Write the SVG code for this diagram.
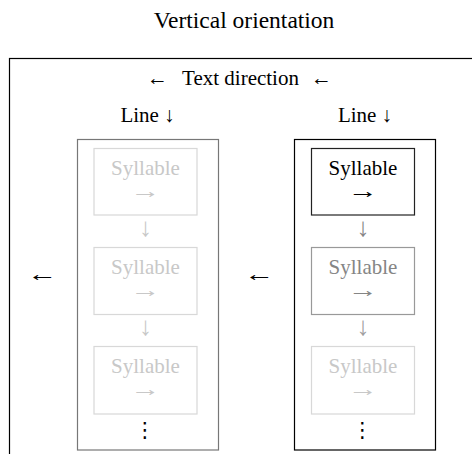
<svg xmlns="http://www.w3.org/2000/svg" width="472" height="454" viewBox="0 0 472 454">
<style>
text { font-size: 21px; text-anchor: middle; }
.k { fill: #000; }
.light { fill: #c8c8c8; }
.mid { fill: #858585; }
.mid2 { fill: #a0a0a0; }
.v { font-size: 26px; }
.title { font-size: 23.5px; }
.col { fill: none; stroke-width: 1.2; }
.syl { fill: #fff; stroke-width: 1.2; }
</style>
<rect width="472" height="454" fill="#fff"/>
<g font-family="Liberation Serif, Times New Roman, serif">
<text class="k title" x="244" y="28">Vertical orientation</text>
<rect x="9.5" y="58.5" width="600" height="600" fill="none" stroke="#000" stroke-width="1.2"/>
<text class="k" y="85"><tspan x="157.5">←</tspan><tspan x="240.5">Text direction</tspan><tspan x="321.5">←</tspan></text>
<g id="line-left">
  <text class="k" x="147.5" y="122">Line ↓</text>
  <rect class="col" x="77.5" y="139.5" width="141" height="310.5" stroke="#777"/>
  <g id="syl-l1"><rect class="syl" x="94" y="148.5" width="103" height="66.5" stroke="#d8d8d8"/><text class="light" x="145.5" y="175">Syllable</text><text class="light" x="145.5" y="198" textLength="30" lengthAdjust="spacingAndGlyphs">→</text></g>
  <g id="syl-l2"><rect class="syl" x="94" y="247.5" width="103" height="67" stroke="#d8d8d8"/><text class="light" x="145.5" y="274">Syllable</text><text class="light" x="145.5" y="297" textLength="30" lengthAdjust="spacingAndGlyphs">→</text></g>
  <g id="syl-l3"><rect class="syl" x="94" y="346.5" width="103" height="67.5" stroke="#d8d8d8"/><text class="light" x="145.5" y="373">Syllable</text><text class="light" x="145.5" y="396" textLength="30" lengthAdjust="spacingAndGlyphs">→</text></g>
  <text class="k" font-family="DejaVu Sans, sans-serif" font-size="20" x="145" y="437">⋮</text>
</g>
<g id="line-right">
  <text class="k" x="365" y="122">Line ↓</text>
  <rect class="col" x="294.5" y="139.5" width="141" height="310.5" stroke="#000"/>
  <g id="syl-r1"><rect class="syl" x="311.5" y="148.5" width="103" height="66.5" stroke="#222"/><text class="k" x="363" y="175">Syllable</text><text class="k" x="363" y="198" textLength="30" lengthAdjust="spacingAndGlyphs">→</text></g>
  <g id="syl-r2"><rect class="syl" x="311.5" y="247.5" width="103" height="67" stroke="#999"/><text class="mid" x="363" y="274">Syllable</text><text class="mid" x="363" y="297" textLength="30" lengthAdjust="spacingAndGlyphs">→</text></g>
  <g id="syl-r3"><rect class="syl" x="311.5" y="346.5" width="103" height="67.5" stroke="#d8d8d8"/><text class="light" x="363" y="373">Syllable</text><text class="light" x="363" y="396" textLength="30" lengthAdjust="spacingAndGlyphs">→</text></g>
  <text class="k" font-family="DejaVu Sans, sans-serif" font-size="20" x="362.5" y="437">⋮</text>
</g>
<g id="connectors">
  <text class="light v" x="145.5" y="236">↓</text>
  <text class="light v" x="145.5" y="335">↓</text>
  <text class="mid v" x="363" y="236">↓</text>
  <text class="mid2 v" x="363" y="335">↓</text>
  <text class="k" x="42.5" y="281" textLength="30" lengthAdjust="spacingAndGlyphs">←</text>
  <text class="k" x="259.5" y="281" textLength="30" lengthAdjust="spacingAndGlyphs">←</text>
</g>
</g>
</svg>
